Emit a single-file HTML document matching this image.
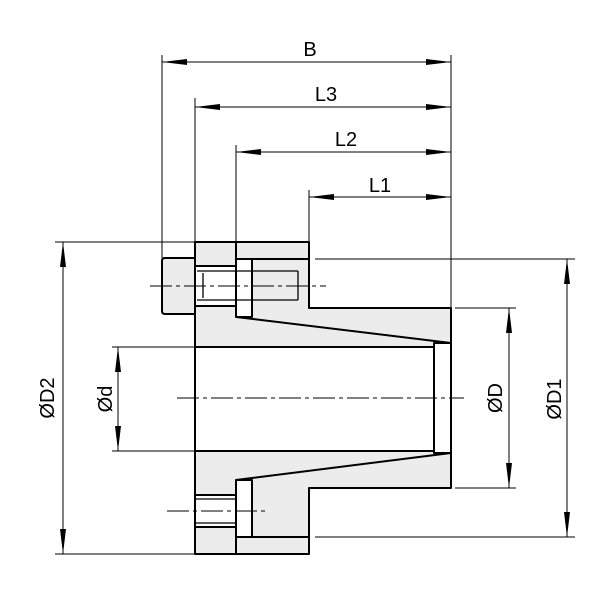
<!DOCTYPE html>
<html><head><style>html,body{margin:0;padding:0;background:#fff}svg{display:block}</style></head><body>
<svg width="600" height="600" viewBox="0 0 600 600" xmlns="http://www.w3.org/2000/svg" font-family="Liberation Sans, sans-serif">
<defs>
<marker id="a" viewBox="0 0 25 8" refX="25" refY="4" markerWidth="25" markerHeight="8" markerUnits="userSpaceOnUse" orient="auto-start-reverse"><path d="M0,1 L25,4 L0,7 Z" fill="#000"/></marker>
</defs>
<g stroke="#000" stroke-width="1" fill="none">
<line x1="162" y1="55" x2="162" y2="258"/>
<line x1="195" y1="98" x2="195" y2="242"/>
<line x1="236" y1="145" x2="236" y2="242"/>
<line x1="309" y1="190" x2="309" y2="242"/>
<line x1="451" y1="55" x2="451" y2="308"/>
<line x1="55" y1="242" x2="195" y2="242"/>
<line x1="55" y1="554" x2="195" y2="554"/>
<line x1="112" y1="347" x2="195" y2="347"/>
<line x1="112" y1="451" x2="195" y2="451"/>
<line x1="315" y1="259" x2="575" y2="259"/>
<line x1="315" y1="537" x2="575" y2="537"/>
<line x1="455" y1="308" x2="516" y2="308"/>
<line x1="455" y1="488" x2="516" y2="488"/>
<line x1="162" y1="62" x2="451" y2="62" marker-start="url(#a)" marker-end="url(#a)"/>
<line x1="195" y1="107" x2="451" y2="107" marker-start="url(#a)" marker-end="url(#a)"/>
<line x1="236" y1="152" x2="451" y2="152" marker-start="url(#a)" marker-end="url(#a)"/>
<line x1="309" y1="197" x2="451" y2="197" marker-start="url(#a)" marker-end="url(#a)"/>
<line x1="63" y1="242" x2="63" y2="554" marker-start="url(#a)" marker-end="url(#a)"/>
<line x1="118" y1="347" x2="118" y2="451" marker-start="url(#a)" marker-end="url(#a)"/>
<line x1="509" y1="308" x2="509" y2="488" marker-start="url(#a)" marker-end="url(#a)"/>
<line x1="567" y1="259" x2="567" y2="537" marker-start="url(#a)" marker-end="url(#a)"/>
</g>
<g stroke="#000" stroke-width="2" stroke-linejoin="round">
<path d="M195,242 H309 V308 H451 V488 H309 V554 H195 Z" fill="#ececec"/>
<rect x="195" y="347" width="239" height="104" fill="#fff"/>
<path d="M434,343 L451,343 V453 L434,453 Z" fill="#fff"/>
<path d="M236,317 L451,343 M236,480 L451,453" fill="none"/>
<line x1="236" y1="242" x2="236" y2="317"/>
<line x1="236" y1="480" x2="236" y2="554"/>
<line x1="236" y1="259" x2="309" y2="259"/>
<line x1="236" y1="537" x2="309" y2="537"/>
<rect x="236" y="259" width="16" height="58" fill="#fff"/>
<rect x="236" y="480" width="16" height="57" fill="#fff"/>
<path d="M195,258 H165 Q162,258 162,261 V311 Q162,314 165,314 H195 Z" fill="#ececec"/>
<rect x="195" y="266" width="41" height="40" fill="#fff"/>
<rect x="195" y="495" width="41" height="32" fill="#fff"/>
</g>
<g stroke="#000" stroke-width="1.3" fill="none">
<line x1="197" y1="271" x2="298" y2="271"/>
<line x1="197" y1="300" x2="298" y2="300"/>
<line x1="203" y1="273" x2="203" y2="298"/>
<line x1="298" y1="271" x2="298" y2="300"/>
<line x1="195" y1="499" x2="236" y2="499"/>
<line x1="195" y1="523" x2="236" y2="523"/>
</g>
<g stroke="#000" stroke-width="1" stroke-dasharray="22,4,4,4">
<line x1="150" y1="286" x2="326" y2="286"/>
<line x1="177" y1="398" x2="464" y2="398"/>
<line x1="167" y1="511" x2="268" y2="511"/>
</g>
<g font-size="20" fill="#000" text-anchor="middle">
<text x="310" y="56">B</text>
<text x="326" y="101">L3</text>
<text x="346" y="146">L2</text>
<text x="380" y="192">L1</text>
<text transform="translate(54,398) rotate(-90)">ØD2</text>
<text transform="translate(112,399) rotate(-90)">Ød</text>
<text transform="translate(502,398) rotate(-90)">ØD</text>
<text transform="translate(561,399) rotate(-90)">ØD1</text>
</g>
</svg>
</body></html>
